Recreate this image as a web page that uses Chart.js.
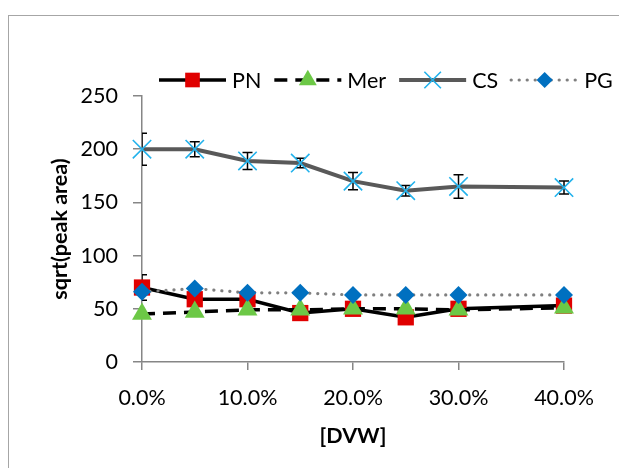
<!DOCTYPE html>
<html>
<head>
<meta charset="utf-8">
<script src="https://cdn.jsdelivr.net/npm/chart.js@4.4.1/dist/chart.umd.min.js"></script>
<style>
  body { margin: 0; background: #fff; }
  #wrap { position: relative; width: 619px; height: 468px; overflow: hidden; }
  #frame { position: absolute; left: 8px; top: 15px; width: 700px; height: 500px;
           border-top: 1.5px solid #a6a6a6; border-left: 1.5px solid #a6a6a6; }
  canvas { position: absolute; left: 0; top: 0; }
</style>
</head>
<body>
<div id="wrap">
  <div id="frame"></div>
  <canvas id="grafico" width="619" height="468"></canvas>
</div>
<script>
// dados
const dvw = [0, 5, 10, 15, 20, 25, 30, 40];        // % DVW
const pn  = [70, 59, 59, 46, 50, 42, 50, 53];
const mer = [45, 47, 49, 49, 50, 50, 49, 51];
const cs  = [200, 200, 189, 187, 170, 161, 165, 164];
const pg  = [66, 69, 65, 65, 63, 63, 63, 63];
const erroPn = [12, 0, 0, 0, 0, 0, 0, 0];
const erroCs = [15, 7, 8, 4.5, 8, 5, 11, 6];
const xTicks = ["0.0%", "10.0%", "20.0%", "30.0%", "40.0%"];
const yTicks = [0, 50, 100, 150, 200, 250];

const fonte = "Lato";
const tam = 21.5;
const cinzaEixo = "#868686";

function pontos(valores) {
    return valores.map(function(v, i) { return {x: dvw[i], y: v}; });
}

// barras de erro, desenhadas antes de cada serie
const barrasErro = {
    id: "barrasErro",
    beforeDatasetDraw(chart, args) {
        const ds = chart.data.datasets[args.index];
        if (!ds.erros) return;
        const ctx = chart.ctx;
        const area = chart.chartArea;
        const y = chart.scales.y;
        ctx.save();
        ctx.beginPath();
        ctx.rect(area.left, area.top - 20, area.right - area.left + 20, area.bottom - area.top + 20);
        ctx.clip();
        ctx.strokeStyle = "#000";
        ctx.lineWidth = 1.5;
        args.meta.data.forEach(function(p, i) {
            const e = ds.erros[i];
            if (!e) return;
            const v = ds.data[i].y;
            const y1 = y.getPixelForValue(v + e);
            const y2 = y.getPixelForValue(v - e);
            ctx.beginPath();
            ctx.moveTo(p.x, y1); ctx.lineTo(p.x, y2);
            ctx.moveTo(p.x - 5, y1); ctx.lineTo(p.x + 5, y1);
            ctx.moveTo(p.x - 5, y2); ctx.lineTo(p.x + 5, y2);
            ctx.stroke();
        });
        ctx.restore();
    }
};

// legenda desenhada no canvas (linha + marcador)
const legenda = {
    id: "legenda",
    afterDraw(chart) {
        const ctx = chart.ctx;
        let x = 159;
        const y = 80;
        const compr = 67;
        ctx.save();
        ctx.font = tam + "px " + fonte;
        ctx.textBaseline = "middle";
        chart.data.datasets.forEach(function(ds) {
            ctx.save();
            ctx.strokeStyle = ds.borderColor;
            ctx.lineWidth = ds.borderWidth;
            ctx.lineCap = ds.borderCapStyle || "butt";
            ctx.setLineDash(ds.borderDash || []);
            ctx.beginPath();
            ctx.moveTo(x, y); ctx.lineTo(x + compr, y);
            ctx.stroke();
            ctx.restore();
            ctx.save();
            ctx.fillStyle = ds.pointBackgroundColor;
            ctx.strokeStyle = ds.pointBorderColor;
            ctx.lineWidth = ds.pointBorderWidth;
            Chart.helpers.drawPoint(ctx, {pointStyle: ds.pointStyle, radius: ds.pointRadius * 0.9, rotation: 0, borderWidth: ds.pointBorderWidth}, x + compr / 2, y);
            ctx.restore();
            ctx.fillStyle = "#000";
            ctx.fillText(ds.label, x + compr + 6, y + 1);
            x += compr + 6 + ctx.measureText(ds.label).width + 13;
        });
        ctx.restore();
    }
};

const g = document.getElementById("grafico").getContext("2d");

const graficoChart = new Chart(g, {
    type: "line",
    data: {
        datasets: [{
            label: "PN",
            data: pontos(pn),
            erros: erroPn,
            borderColor: "#000",
            borderWidth: 3.5,
            pointStyle: "rect",
            pointRadius: 11.5,
            pointBackgroundColor: "#e00000",
            pointBorderColor: "#e00000",
            pointBorderWidth: 0,
            order: 4
        }, {
            label: "Mer",
            data: pontos(mer),
            borderColor: "#000",
            borderWidth: 3.5,
            borderDash: [13, 8],
            pointStyle: "triangle",
            pointRadius: 11.5,
            pointBackgroundColor: "#6cc846",
            pointBorderColor: "#6cc846",
            pointBorderWidth: 0,
            order: 3
        }, {
            label: "CS",
            data: pontos(cs),
            erros: erroCs,
            borderColor: "#595959",
            borderWidth: 4,
            pointStyle: "crossRot",
            pointRadius: 13,
            pointBackgroundColor: "#22b2ec",
            pointBorderColor: "#22b2ec",
            pointBorderWidth: 1.6,
            order: 2
        }, {
            label: "PG",
            data: pontos(pg),
            borderColor: "#7f7f7f",
            borderWidth: 3.2,
            borderDash: [0.1, 7.9],
            borderCapStyle: "round",
            pointStyle: "rectRot",
            pointRadius: 9,
            pointBackgroundColor: "#0070c0",
            pointBorderColor: "#0070c0",
            pointBorderWidth: 0,
            order: 1
        }]
    },
    options: {
        responsive: false,
        animation: false,
        devicePixelRatio: 1,
        layout: { padding: { left: 0, top: 96, right: 55, bottom: 0 } },
        datasets: { line: { clip: false, tension: 0, pointHoverRadius: 0 } },
        plugins: { legend: { display: false }, tooltip: { enabled: false } },
        scales: {
            x: {
                type: "linear",
                min: 0,
                max: 40,
                afterFit: function(s) { s.height = 106; },
                afterBuildTicks: function(s) {
                    s.ticks = xTicks.map(function(t, i) { return {value: i * 10}; });
                },
                ticks: {
                    color: "#000",
                    font: { family: fonte, size: tam },
                    padding: 15,
                    callback: function(v, i) { return xTicks[i]; }
                },
                grid: { drawOnChartArea: false, tickLength: 8, color: cinzaEixo, lineWidth: 1.5 },
                border: { color: cinzaEixo, width: 1.5 },
                title: {
                    display: true,
                    text: "[DVW]",
                    color: "#000",
                    font: { family: fonte, size: tam, weight: "bold" },
                    padding: { top: 0, bottom: 19 }
                }
            },
            y: {
                min: 0,
                max: 250,
                afterFit: function(s) { s.width = 142; },
                afterBuildTicks: function(s) {
                    s.ticks = yTicks.map(function(v) { return {value: v}; });
                },
                ticks: {
                    color: "#000",
                    font: { family: fonte, size: tam },
                    padding: 15
                },
                grid: { drawOnChartArea: false, tickLength: 9, color: cinzaEixo, lineWidth: 1.5 },
                border: { color: cinzaEixo, width: 1.5 },
                title: {
                    display: true,
                    text: "sqrt(peak area)",
                    color: "#000",
                    font: { family: fonte, size: tam, weight: "bold" },
                    padding: { top: 47, bottom: 0 }
                }
            }
        }
    },
    plugins: [barrasErro, legenda]
});
</script>
</body>
</html>
